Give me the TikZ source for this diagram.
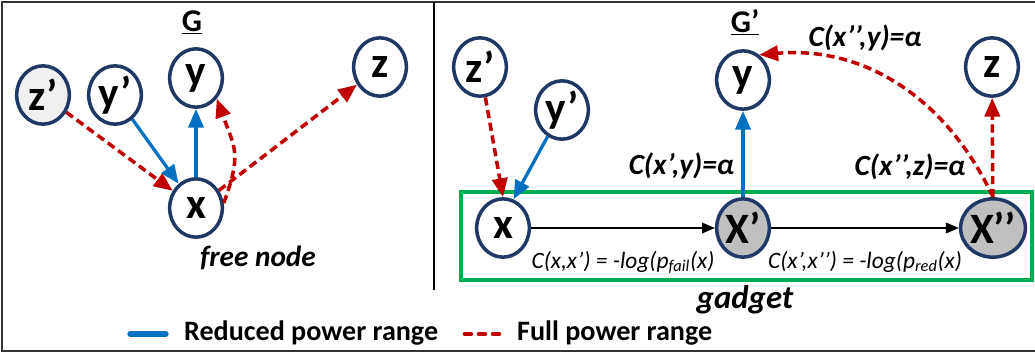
\documentclass[tikz,border=0pt]{standalone}
\usepackage{fontspec}
\setmainfont{Carlito}
\usetikzlibrary{positioning, arrows.meta, shapes.geometric}

\definecolor{navy}{HTML}{203864}
\definecolor{fullred}{HTML}{C00000}
\definecolor{reducedblue}{HTML}{0070C0}
\definecolor{gadgetgreen}{HTML}{00B050}
\definecolor{virtgray}{HTML}{BFBFBF}
\definecolor{paleg}{HTML}{F0F0F0}

\tikzset{
    vert/.style={ellipse, draw=navy, line width=3pt, fill=white,
        minimum width=1.58cm, minimum height=1.75cm, inner sep=0pt,
        font=\fontsize{37}{37}\selectfont\bfseries},
    full/.style={fullred, line width=3pt, dash pattern=on 7pt off 4pt},
    reduced/.style={reducedblue, line width=2.8pt},
    chain/.style={black, line width=1.3pt, -{Triangle[length=11pt, width=9pt]}},
    cost/.style={text=black, font=\fontsize{25}{25}\selectfont\bfseries\itshape},
    smallcost/.style={text=black, font=\fontsize{20}{20}\selectfont\itshape},
    legendtext/.style={font=\fontsize{24}{24}\selectfont\bfseries},
    title/.style={font=\fontsize{27}{27}\selectfont\bfseries}
}

\begin{document}
\begin{tikzpicture}[
    x=0.03cm, y=-0.03cm,        % 座標はピクセル単位（下向き）
    >={Triangle[length=16pt, width=13pt]}
]
    \useasboundingbox (0,0) rectangle (1035,353);

    % --- 1. 外枠と仕切り線 ---
    \draw [line width=2.5pt, black!80] (1035,2) -- (2,2) -- (2,351) -- (1035,351);
    \draw [line width=2pt] (434,2) -- (434,290);

    % --- 2. 左側：元のグラフ G ---
    \node [title] (g_title) at (192,22) {\underline{G}};

    \node [vert, fill=paleg] (l_zp) at (43,95)  {z’};
    \node [vert]             (l_yp) at (115,95) {y’};
    \node [vert]             (l_y)  at (196,78) {y};
    \node [vert]             (l_x)  at (196,208) {x};
    \node [vert]             (l_z)  at (380,67) {z};

    \draw [full, ->]    (l_zp) -- (l_x);
    \draw [reduced, ->] (l_yp) -- (l_x);
    \draw [reduced, ->] (l_x) -- (l_y);
    \draw [full, ->]    (l_x.10) to[out=70, in=-70, looseness=1.3] (l_y.-45);
    \draw [full, ->]    (l_x) -- (l_z);

    \node [font=\fontsize{25}{25}\selectfont\bfseries\itshape] (free_label) at (258,258) {free node};

    % --- 3. 右側：ガジェット付きグラフ G' ---
    \node [title] (gp_title) at (745,22) {\underline{G’}};

    % 【ガジェット枠】
    \draw [gadgetgreen, line width=3.2pt] (461,192) rectangle (1032,280);
    \node [font=\fontsize{28}{28}\selectfont\bfseries\itshape] (gadget_label) at (745,300) {gadget};

    \node [vert] (r_zp)  at (480,67)  {z’};
    \node [vert] (r_yp)  at (562,110) {y’};
    \node [vert] (r_y)   at (743,80)  {y};
    \node [vert] (r_z)   at (992,67)  {z};
    \node [vert]                  (r_x)   at (503,228) {x};
    \node [vert, fill=virtgray]   (r_xp)  at (743,228) {X’};
    \node [vert, fill=virtgray]   (r_xpp) at (993,228) {X’’};

    \draw [full, ->]    (r_zp) -- (r_x.north);
    \draw [reduced, ->] (r_yp) -- (r_x.70);
    \draw [reduced, ->] (r_xp) -- (r_y)
        node [cost, pos=0.36, anchor=east, xshift=-3pt] {C(x’,y)=α};
    \draw [full, ->]    (r_xpp) -- (r_z);
    \draw [full, ->]    (r_xpp.north) to[out=115, in=5] (r_y.57);

    \node [cost] (cost_xppy) at (865,38)  {C(x’’,y)=α};
    \node [cost] (cost_xppz) at (910,167) {C(x’’,z)=α};

    % 【ガジェット内部の連鎖】
    \draw [chain] (r_x) -- (r_xp)
        node [smallcost, midway, below=0.55cm] {C(x,x’) = -log(p\textsubscript{fail}(x)};
    \draw [chain] (r_xp) -- (r_xpp)
        node [smallcost, midway, below=0.55cm] {C(x’,x’’) = -log(p\textsubscript{red}(x)};

    % --- 4. 凡例 ---
    \coordinate (leg_b1) at (130,334);
    \coordinate (leg_b2) at (166,334);
    \draw [reducedblue, line width=4.5pt, line cap=round] (leg_b1) -- (leg_b2);
    \node [legendtext, anchor=west] (leg_reduced) at (180,333) {Reduced power range};

    \coordinate (leg_r1) at (465,334);
    \coordinate (leg_r2) at (507,334);
    \draw [fullred, line width=4pt, line cap=round, dash pattern=on 5pt off 7pt] (leg_r1) -- (leg_r2);
    \node [legendtext, anchor=west] (leg_full) at (513,333) {Full power range};

\end{tikzpicture}
\end{document}
